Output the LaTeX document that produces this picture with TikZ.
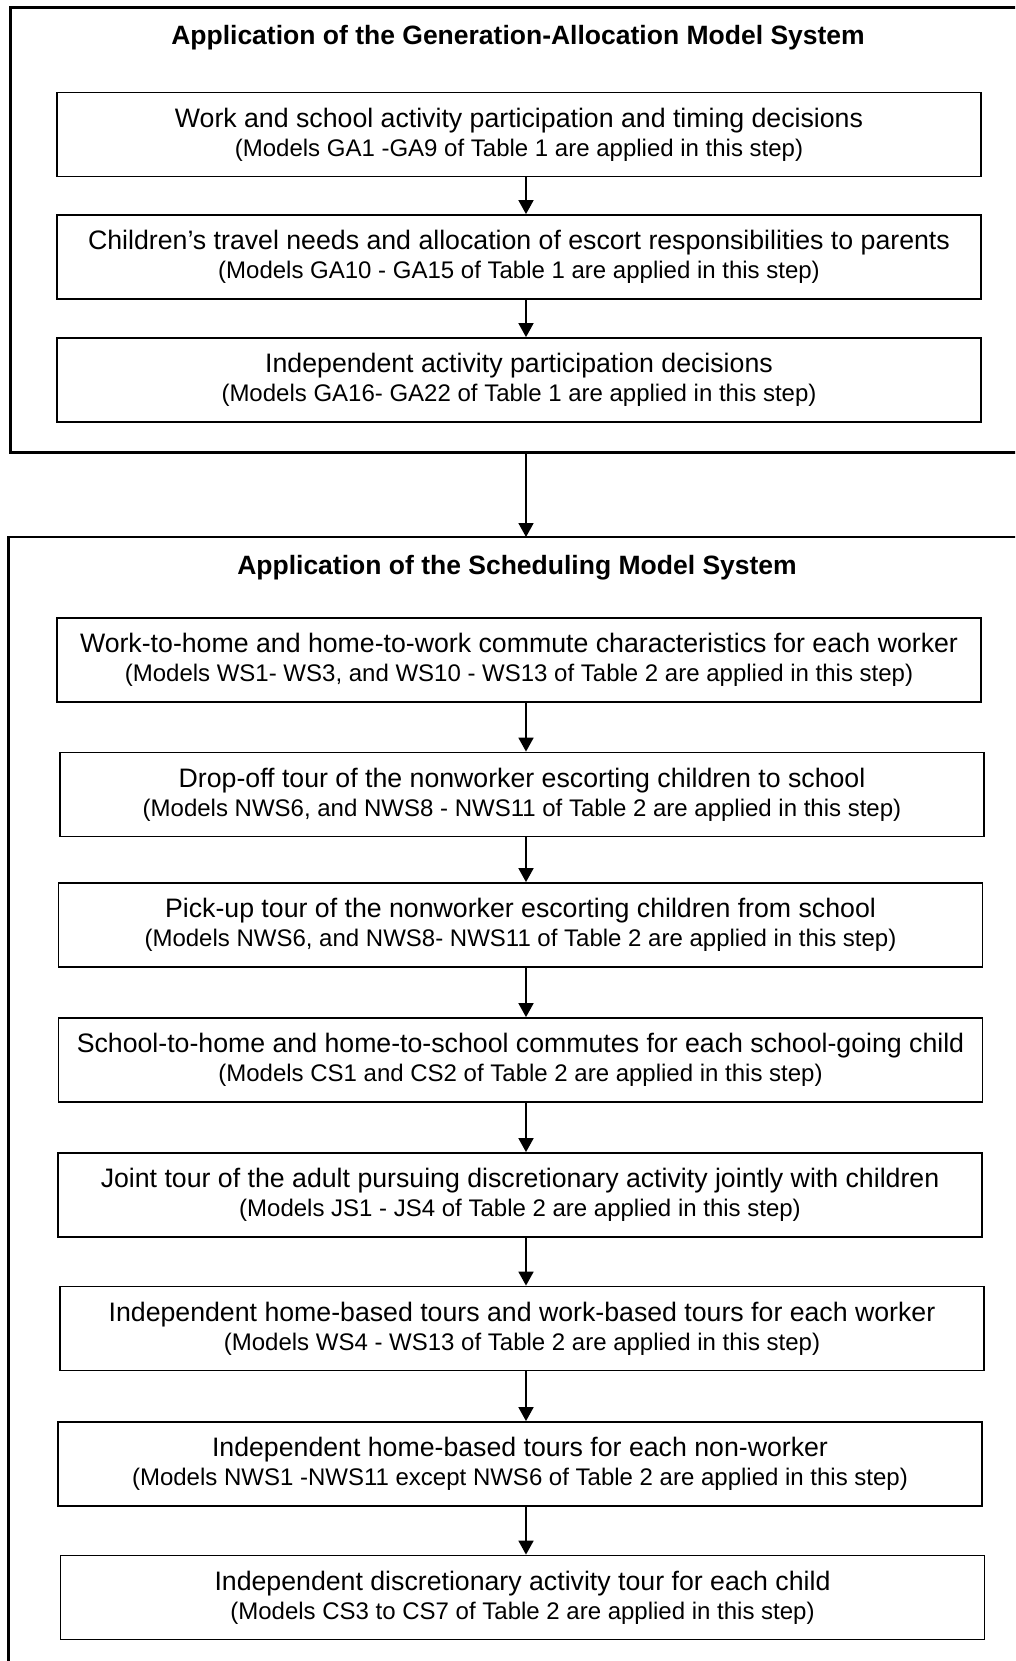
\documentclass[tikz,border=0pt]{standalone}
\usepackage{fontspec}
\setmainfont{Liberation Sans}
\usetikzlibrary{arrows.meta}
\tikzset{
  stepbox/.style={draw, line width=1.8pt, minimum width=924pt, minimum height=84pt, inner sep=0pt, align=center,
    font=\fontsize{26.7}{29}\selectfont},
  outerbox/.style={draw, line width=2.6pt, inner sep=0pt},
  titletext/.style={font=\fontsize{26.5}{31}\selectfont\bfseries, inner sep=0pt},
  arr/.style={line width=1.8pt, -{Triangle[length=14pt,width=15pt]}},
}
\newcommand{\subl}[1]{{\fontsize{24}{29}\selectfont #1}}
\begin{document}
\begin{tikzpicture}[x=1pt,y=-1pt]
\clip (0,0) rectangle (1015,1661);
\fill[white] (0,0) rectangle (1015,1661);
% outer boxes
\draw[outerbox] (10.6,7.4) rectangle (1040,452.4);
\draw[outerbox] (8.5,537) rectangle (1040,1700);
\coordinate (o1s) at (526,452.4);
\coordinate (o2n) at (526,537);
\coordinate (ax) at (526,0);
% titles
\node[titletext] (t1) at (518,38) {Application of the Generation-Allocation Model System};
\node[titletext] (t2) at (517,568) {Application of the Scheduling Model System};
% GA boxes
\node[stepbox] (b1) at (519,134.5) {Work and school activity participation and timing decisions\\\subl{(Models GA1 -GA9 of Table 1 are applied in this step)}};
\node[stepbox] (b2) at (519,257) {Children’s travel needs and allocation of escort responsibilities to parents\\\subl{(Models GA10 - GA15 of Table 1 are applied in this step)}};
\node[stepbox] (b3) at (519,380) {Independent activity participation decisions\\\subl{(Models GA16- GA22 of Table 1 are applied in this step)}};
% scheduling boxes
\node[stepbox] (s1) at (519,660) {Work-to-home and home-to-work commute characteristics for each worker\\\subl{(Models WS1- WS3, and WS10 - WS13 of Table 2 are applied in this step)}};
\node[stepbox] (s2) at (522,794.5) {Drop-off tour of the nonworker escorting children to school\\\subl{(Models NWS6, and NWS8 - NWS11 of Table 2 are applied in this step)}};
\node[stepbox] (s3) at (520.5,925) {Pick-up tour of the nonworker escorting children from school\\\subl{(Models NWS6, and NWS8- NWS11 of Table 2 are applied in this step)}};
\node[stepbox] (s4) at (520.5,1060) {School-to-home and home-to-school commutes for each school-going child\\\subl{(Models CS1 and CS2 of Table 2 are applied in this step)}};
\node[stepbox] (s5) at (520,1195) {Joint tour of the adult pursuing discretionary activity jointly with children\\\subl{(Models JS1 - JS4 of Table 2 are applied in this step)}};
\node[stepbox] (s6) at (522,1328.5) {Independent home-based tours and work-based tours for each worker\\\subl{(Models WS4 - WS13 of Table 2 are applied in this step)}};
\node[stepbox] (s7) at (520,1464) {Independent home-based tours for each non-worker\\\subl{(Models NWS1 -NWS11 except NWS6 of Table 2 are applied in this step)}};
\node[stepbox] (s8) at (522.5,1597.5) {Independent discretionary activity tour for each child\\\subl{(Models CS3 to CS7 of Table 2 are applied in this step)}};
% connectors
\draw[arr] (b1.south -| ax) -- (b2.north -| ax);
\draw[arr] (b2.south -| ax) -- (b3.north -| ax);
\draw[arr] (o1s) -- (o2n);
\draw[arr] (s1.south -| ax) -- (s2.north -| ax);
\draw[arr] (s2.south -| ax) -- (s3.north -| ax);
\draw[arr] (s3.south -| ax) -- (s4.north -| ax);
\draw[arr] (s4.south -| ax) -- (s5.north -| ax);
\draw[arr] (s5.south -| ax) -- (s6.north -| ax);
\draw[arr] (s6.south -| ax) -- (s7.north -| ax);
\draw[arr] (s7.south -| ax) -- (s8.north -| ax);
\end{tikzpicture}
\end{document}
